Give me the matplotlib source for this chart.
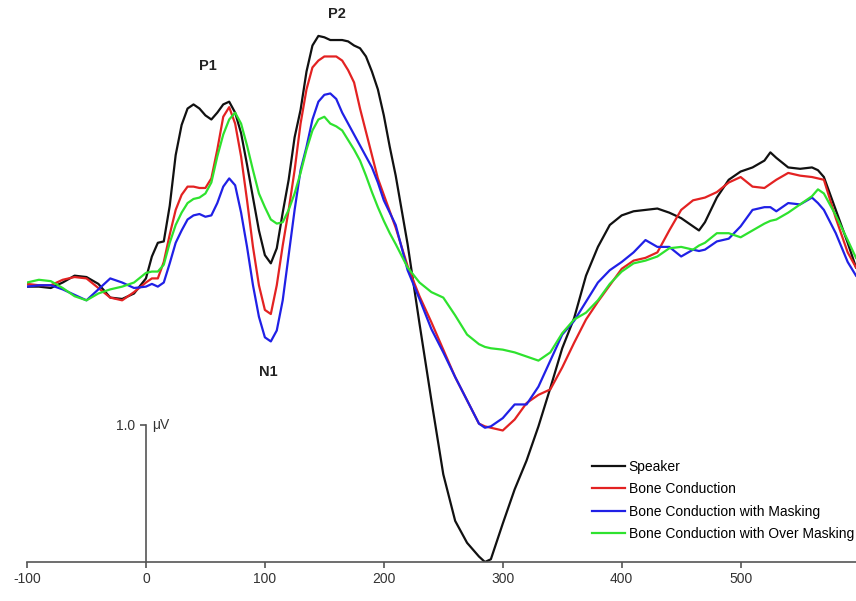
import numpy as np
import matplotlib
matplotlib.use("Agg")
from matplotlib import pyplot as plt

plt.rcParams['font.family'] = ['Liberation Sans', 'DejaVu Sans']
plt.rcParams['axes.unicode_minus'] = False

# time (ms) and amplitude (uV)
time = ([-100, -90, -80, -70, -60, -50, -40, -30, -20, -10]
        + [0, 5, 10, 15, 20, 25, 30, 35, 40, 45, 50, 55, 60, 65, 70, 75, 80, 85, 90, 95,
           100, 105, 110, 115, 120, 125, 130, 135, 140, 145, 150, 155, 160, 165, 170,
           175, 180, 185, 190, 195, 200, 205, 210]
        + [220, 230, 240, 250, 260, 270, 280, 285, 290, 300, 310, 320, 330, 340, 350,
           360, 370, 380, 390, 400, 410, 420, 430, 440, 450, 460, 465, 470, 480, 490,
           500, 510, 520, 525, 530, 540, 550, 560, 565, 570, 580, 590, 597])

speaker = ([2.01, 2.01, 2.00, 2.04, 2.09, 2.08, 2.03, 1.93, 1.92, 1.96]
           + [2.07, 2.23, 2.33, 2.34, 2.60, 2.97, 3.19, 3.31, 3.34, 3.31, 3.26, 3.23,
              3.28, 3.34, 3.36, 3.28, 3.13, 2.90, 2.66, 2.42, 2.24, 2.18, 2.29, 2.55,
              2.79, 3.10, 3.30, 3.58, 3.77, 3.84, 3.83, 3.81, 3.81, 3.81, 3.80, 3.77,
              3.75, 3.69, 3.58, 3.45, 3.26, 3.03, 2.82]
           + [2.32, 1.74, 1.18, 0.64, 0.30, 0.14, 0.04, 0.00, 0.02, 0.28, 0.53, 0.74,
              0.99, 1.27, 1.56, 1.78, 2.09, 2.30, 2.46, 2.53, 2.56, 2.57, 2.58, 2.55,
              2.51, 2.45, 2.42, 2.48, 2.66, 2.79, 2.85, 2.88, 2.93, 2.99, 2.95, 2.88,
              2.87, 2.88, 2.86, 2.81, 2.57, 2.33, 2.15])

bone = ([2.03, 2.02, 2.02, 2.06, 2.08, 2.07, 2.00, 1.93, 1.91, 1.97]
        + [2.04, 2.07, 2.07, 2.19, 2.39, 2.57, 2.68, 2.74, 2.74, 2.73, 2.73, 2.80,
           3.01, 3.25, 3.32, 3.20, 2.96, 2.64, 2.30, 2.02, 1.84, 1.81, 2.02, 2.31,
           2.57, 2.86, 3.20, 3.45, 3.61, 3.66, 3.69, 3.69, 3.69, 3.66, 3.59, 3.50,
           3.31, 3.14, 2.97, 2.80, 2.68, 2.56, 2.44]
        + [2.16, 1.94, 1.75, 1.55, 1.35, 1.18, 1.01, 0.99, 0.98, 0.96, 1.04, 1.16,
           1.22, 1.26, 1.42, 1.60, 1.77, 1.90, 2.02, 2.14, 2.20, 2.22, 2.26, 2.42,
           2.57, 2.64, 2.65, 2.66, 2.70, 2.77, 2.81, 2.74, 2.73, 2.76, 2.79, 2.84,
           2.82, 2.81, 2.80, 2.79, 2.51, 2.26, 2.15])

bone_mask = ([2.01, 2.02, 2.02, 1.99, 1.95, 1.91, 1.99, 2.07, 2.04, 2.00]
             + [2.01, 2.03, 2.01, 2.04, 2.18, 2.33, 2.42, 2.50, 2.53, 2.54, 2.52, 2.53,
                2.62, 2.74, 2.80, 2.75, 2.55, 2.30, 2.02, 1.79, 1.64, 1.61, 1.69, 1.91,
                2.24, 2.57, 2.86, 3.03, 3.23, 3.36, 3.41, 3.42, 3.38, 3.28, 3.20, 3.12,
                3.04, 2.96, 2.88, 2.77, 2.64, 2.55, 2.46]
             + [2.13, 1.92, 1.70, 1.53, 1.35, 1.18, 1.01, 0.98, 0.99, 1.05, 1.15, 1.15,
                1.28, 1.47, 1.66, 1.76, 1.90, 2.04, 2.13, 2.19, 2.26, 2.35, 2.30, 2.30,
                2.23, 2.28, 2.27, 2.28, 2.34, 2.36, 2.45, 2.57, 2.59, 2.59, 2.56, 2.62,
                2.61, 2.66, 2.62, 2.57, 2.40, 2.19, 2.09])

bone_over = ([2.04, 2.06, 2.05, 2.00, 1.94, 1.91, 1.96, 1.99, 2.01, 2.04]
             + [2.11, 2.12, 2.12, 2.17, 2.33, 2.46, 2.55, 2.62, 2.65, 2.66, 2.69, 2.77,
                2.96, 3.12, 3.23, 3.28, 3.20, 3.04, 2.86, 2.69, 2.59, 2.50, 2.47, 2.48,
                2.57, 2.69, 2.84, 3.01, 3.15, 3.23, 3.25, 3.20, 3.18, 3.15, 3.08, 3.01,
                2.93, 2.82, 2.70, 2.59, 2.49, 2.40, 2.32]
             + [2.15, 2.04, 1.97, 1.93, 1.80, 1.66, 1.59, 1.57, 1.56, 1.55, 1.53, 1.50,
                1.47, 1.53, 1.67, 1.77, 1.82, 1.91, 2.03, 2.12, 2.18, 2.20, 2.23, 2.29,
                2.30, 2.28, 2.31, 2.33, 2.40, 2.40, 2.37, 2.42, 2.47, 2.49, 2.50, 2.55,
                2.61, 2.67, 2.72, 2.69, 2.53, 2.35, 2.22])

labels = ["Speaker", "Bone Conduction", "Bone Conduction with Masking",
          "Bone Conduction with Over Masking"]
colors = ["#111111", "#e32222", "#2020e6", "#2ee22e"]

peaks = ["P1", "P2", "N1"]
peak_x = [52, 161, 103]
peak_y = [3.62, 4.0, 1.39]

fig = plt.figure(figsize=(8.56, 6.01), dpi=100)
ax = fig.add_axes([27 / 856, 39 / 601, 829 / 856, 562 / 601])

for y, lab, c in zip([speaker, bone, bone_mask, bone_over], labels, colors):
    ax.plot(time, y, color=c, lw=1.6, label=lab, solid_joinstyle='round')

for name, x, y in zip(peaks, peak_x, peak_y):
    ax.text(x, y, name, ha='center', va='center', fontsize=10.5, fontweight='bold',
            color='#222222')

ax.set_xlim(-100, 597)
ax.set_ylim(0, 562 / 137)

ax.spines['top'].set_visible(False)
ax.spines['right'].set_visible(False)
ax.spines['left'].set_position(('data', 0))
ax.spines['left'].set_bounds(0, 1.0)
ax.spines['bottom'].set_bounds(-100, 597)
for s in ['left', 'bottom']:
    ax.spines[s].set_color('#555555')
    ax.spines[s].set_linewidth(1.2)

ax.set_xticks([-100, 0, 100, 200, 300, 400, 500])
ax.set_yticks([1.0])
ax.set_yticklabels(["1.0"])
ax.tick_params(colors='#555555', labelcolor='#333333', labelsize=10, length=4, width=1.2)
ax.text(5, 1.0, "\u03bcV", ha='left', va='center', fontsize=10, color='#333333')

ax.legend(loc='upper left', bbox_to_anchor=(592 / 856, 1 - 460 / 601),
          bbox_transform=fig.transFigure, frameon=False, fontsize=10,
          borderaxespad=0, borderpad=0, handlelength=2.4, handletextpad=0.25,
          labelspacing=0.6)

fig.savefig("out.png", dpi=100)
